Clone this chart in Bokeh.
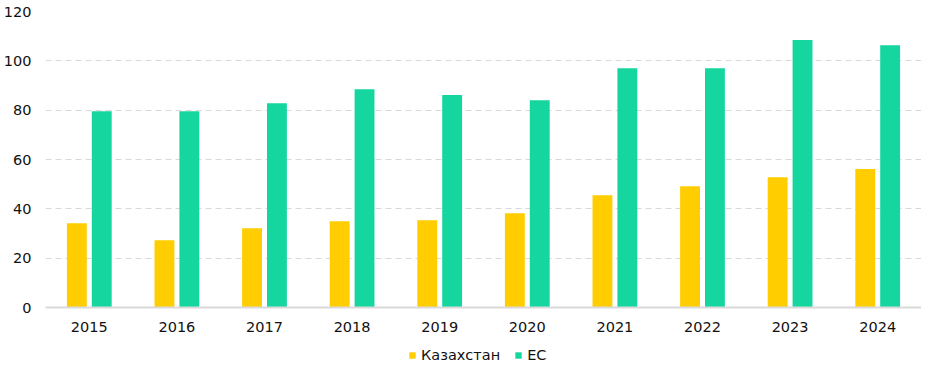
from bokeh.plotting import figure
from bokeh.layouts import column
from bokeh.models import ColumnDataSource, FactorRange, Range1d, FixedTicker, Legend, LegendItem
from bokeh.transform import dodge
from bokeh.embed import file_html
from bokeh.resources import INLINE

years = ["2015", "2016", "2017", "2018", "2019", "2020", "2021", "2022", "2023", "2024"]
kazakhstan = [34.2, 27.3, 32.1, 35.0, 35.4, 38.2, 45.5, 49.2, 52.8, 56.1]
eu = [79.6, 79.6, 82.8, 88.5, 86.1, 84.0, 97.0, 97.0, 108.4, 106.3]
y_ticks = [0, 20, 40, 60, 80, 100, 120]
series_names = ["Казахстан", "ЕС"]
colors = ["#FFCD00", "#16D69F"]

FONT = "DejaVu Sans"
TXT = "#111111"

source = ColumnDataSource(data=dict(year=years, kz=kazakhstan, eu=eu))


def add_bars(fig):
    a = fig.vbar(x=dodge("year", -0.142, range=fig.x_range), top="kz", width=0.227,
                 source=source, fill_color=colors[0], line_color=None)
    b = fig.vbar(x=dodge("year", 0.142, range=fig.x_range), top="eu", width=0.227,
                 source=source, fill_color=colors[1], line_color=None)
    return a, b


p = figure(
    x_range=FactorRange(*years, range_padding=0),
    y_range=Range1d(0, 120),
    width=921, height=334,
    output_backend="svg", toolbar_location=None,
    min_border_left=37, min_border_right=0, min_border_top=11, min_border_bottom=0,
)
add_bars(p)

p.outline_line_color = None
p.xgrid.grid_line_color = None
p.ygrid.grid_line_color = "#d9d9d9"
p.ygrid.grid_line_dash = "6 4"
p.ygrid.grid_line_width = 1

p.yaxis.ticker = FixedTicker(ticks=y_ticks)
p.yaxis.axis_line_color = None
p.yaxis.major_tick_line_color = None
p.yaxis.minor_tick_line_color = None
p.yaxis.major_label_standoff = 8
p.yaxis.major_label_text_font = FONT
p.yaxis.major_label_text_font_size = "14.5px"
p.yaxis.major_label_text_color = TXT

p.xaxis.axis_line_color = "#d9d9d9"
p.xaxis.axis_line_width = 2
p.xaxis.major_tick_line_color = None
p.xaxis.minor_tick_line_color = None
p.xaxis.major_label_standoff = 8
p.xaxis.major_label_text_font = FONT
p.xaxis.major_label_text_font_size = "14.5px"
p.xaxis.major_label_text_color = TXT

# legend strip: same bars, scrolled out of view, only the legend shows
lg = figure(
    x_range=FactorRange(*years, range_padding=0),
    y_range=Range1d(1000, 1001),
    width=921, height=30,
    output_backend="svg", toolbar_location=None,
    min_border_left=0, min_border_right=0, min_border_top=0, min_border_bottom=0,
)
la, lb = add_bars(lg)
lg.axis.visible = False
lg.grid.visible = False
lg.outline_line_color = None

legend = Legend(
    items=[LegendItem(label=series_names[0], renderers=[la]),
           LegendItem(label=series_names[1], renderers=[lb])],
    orientation="horizontal", location=(363, 1),
    glyph_width=8, glyph_height=8, label_standoff=5, spacing=14,
    label_text_font=FONT, label_text_font_size="14.5px", label_text_color=TXT,
    border_line_color=None, background_fill_color=None, background_fill_alpha=0,
    padding=0, margin=0,
)
lg.add_layout(legend, "center")

layout = column(p, lg, spacing=0)
open("out.html", "w").write(file_html(layout, INLINE))
